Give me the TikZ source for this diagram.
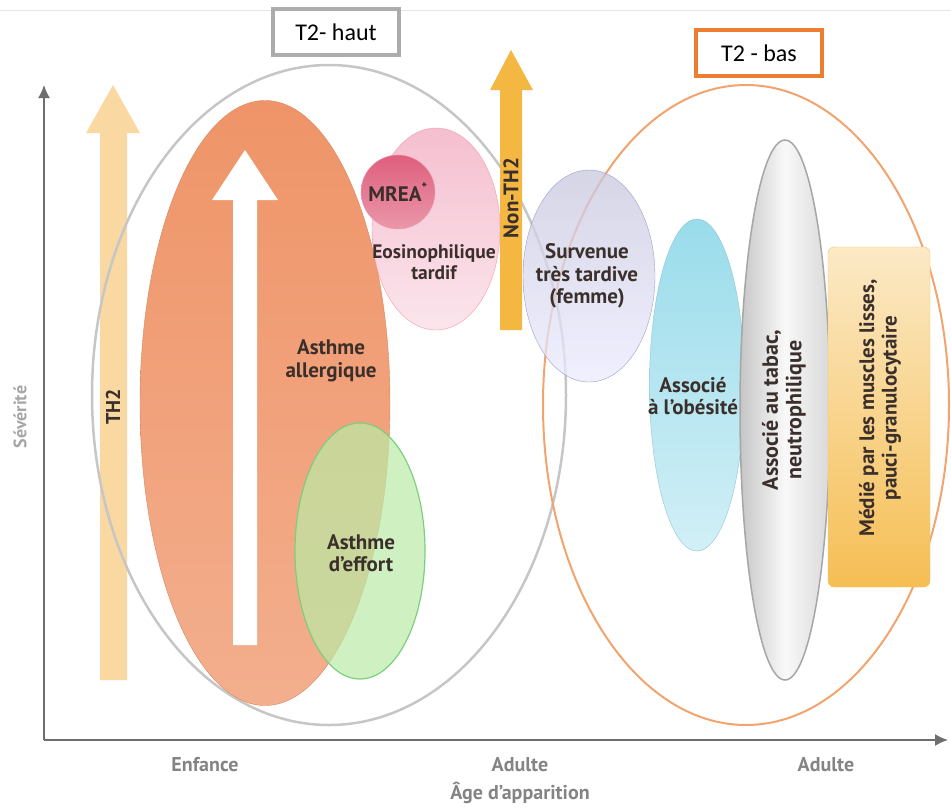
\documentclass[tikz,border=0pt]{standalone}
\usepackage{fontspec}
\setmainfont{PT Sans}
\newfontfamily\boxfont{Carlito}
\usetikzlibrary{shapes.geometric, positioning, arrows.meta}
\definecolor{ink}{HTML}{3A2F2B}
\definecolor{axisgray}{HTML}{6E6E6E}
\definecolor{thtwo}{HTML}{F9D8A2}
\definecolor{nonth}{HTML}{F4B741}
\definecolor{allerg}{HTML}{EF9468}
\definecolor{bascol}{HTML}{ED7D31}
\definecolor{mreacol}{HTML}{DF5F7D}
\definecolor{eosicol}{HTML}{F5BFD0}
\definecolor{obescol}{HTML}{9ADCEB}
\tikzset{
  blob/.style={ellipse, inner sep=0pt},
  lbl/.style={font=\bfseries\fontsize{21}{22.5}\selectfont, text=ink, align=center},
  axlbl/.style={font=\bfseries\fontsize{20}{22}\selectfont, text=axisgray!85},
  groupbox/.style={draw, line width=3.5pt, fill=white, minimum width=126pt, minimum height=46pt, font=\boxfont\fontsize{24}{26}\selectfont, text=black}
}

\begin{document}
\begin{tikzpicture}[x=1pt,y=-1pt]
    \useasboundingbox (0,0) rectangle (951,807);
    \draw[gray!20] (0,10) -- (951,10);

    \fill[thtwo] (100,680) -- (100,133) -- (86,133) -- (113,85) -- (140,133) -- (127,133) -- (127,680) -- cycle;
    \node[lbl, rotate=90, font=\bfseries\fontsize{20}{22}\selectfont] (th) at (113,407) {TH2};

    \node[blob, draw=gray!45, line width=2.5pt, minimum width=474pt, minimum height=660pt] (haut) at (329,395) {};
    \node[blob, draw=bascol!70, line width=2pt, minimum width=406pt, minimum height=640pt] (bas) at (746,405) {};

    \node[blob, draw=allerg!90!black, top color=allerg, bottom color=allerg!75, minimum width=250pt, minimum height=605pt] (allergique) at (265,403) {};
    \fill[white] (233,645) -- (233,200) -- (212,200) -- (245,150) -- (278,200) -- (257,200) -- (257,645) -- cycle;
    \node[lbl, rotate=90, text=white] (duree) at (245,410) {Allergie/durée};
    \node[lbl] (asthall) at (331,361) {Asthme\\allergique};

    \node[blob, draw=green!45!gray!70, line width=1.2pt, fill=green!55!olive!35, fill opacity=0.7, minimum width=130pt, minimum height=256pt] (effort) at (360,551) {};
    \node[lbl] (asthef) at (361,553) {Asthme\\d’effort};

    \node[blob, draw=eosicol!80!red, top color=eosicol, bottom color=eosicol!40, minimum width=128pt, minimum height=202pt] (eosino) at (436,229) {};
    \node[circle, draw=mreacol!60, top color=mreacol, bottom color=mreacol!65, minimum size=74pt, inner sep=0pt] (mrea) at (398,192) {};
    \node[lbl] (mreatxt) at (398,192) {MREA\textsuperscript{*}};
    \node[lbl, font=\bfseries\fontsize{19.5}{21}\selectfont] (eositxt) at (434,262) {Eosinophilique\\tardif};

    \fill[nonth] (500,330) -- (500,90) -- (490,90) -- (511,50) -- (533,90) -- (522,90) -- (522,330) -- cycle;
    \node[lbl, rotate=90] (nonthtxt) at (511,198) {Non-TH2};

    \node[blob, draw=blue!30!gray!60, top color=blue!25!gray!35, bottom color=blue!8, fill opacity=0.75, minimum width=132pt, minimum height=212pt] (femme) at (589,276) {};
    \node[lbl] (femmetxt) at (587,276) {Survenue\\très tardive\\(femme)};

    \node[blob, draw=obescol!90!black, top color=obescol, bottom color=obescol!45, minimum width=95pt, minimum height=332pt] (obes) at (697,385) {};
    \node[lbl] (obestxt) at (693,396) {Associé\\à l’obésité};

    \node[blob, draw=gray!70, line width=1.5pt, left color=gray!45, right color=gray!30, middle color=gray!5, minimum width=90pt, minimum height=540pt] (tabac) at (785,410) {};
    \node[lbl, rotate=90, font=\bfseries\fontsize{22}{23.5}\selectfont] (tabactxt) at (784,410) {Associé au tabac,\\neutrophilique};

    \node[draw=nonth!80, rounded corners=6pt, top color=nonth!30, bottom color=nonth!90, minimum width=102pt, minimum height=340pt] (muscles) at (879,417) {};
    \node[lbl, rotate=90] (musctxt) at (880,408) {Médié par les muscles lisses,\\pauci-granulocytaire};

    \coordinate (origin) at (44,740);
    \coordinate (ytop) at (44,85);
    \coordinate (xend) at (948,740);
    \draw[axisgray, line width=1.6pt, -{Latex[length=13pt,width=12pt]}] (origin) -- (ytop);
    \draw[axisgray, line width=1.6pt, -{Latex[length=13pt,width=12pt]}] (origin) -- (xend);
    \node[axlbl, rotate=90, font=\bfseries\fontsize{18}{20}\selectfont, text=gray!70] (sev) at (20,417) {Sévérité};
    \node[axlbl] (enf) at (205,765) {Enfance};
    \node[axlbl] (ad1) at (520,765) {Adulte};
    \node[axlbl] (ad2) at (826,765) {Adulte};
    \node[axlbl] (age) at (520,793) {Âge d’apparition};

    \node[groupbox, draw=gray!65] (hautbox) at (336,32) {T2- haut};
    \node[groupbox, draw=bascol] (basbox) at (759,53) {T2 - bas};
\end{tikzpicture}
\end{document}
